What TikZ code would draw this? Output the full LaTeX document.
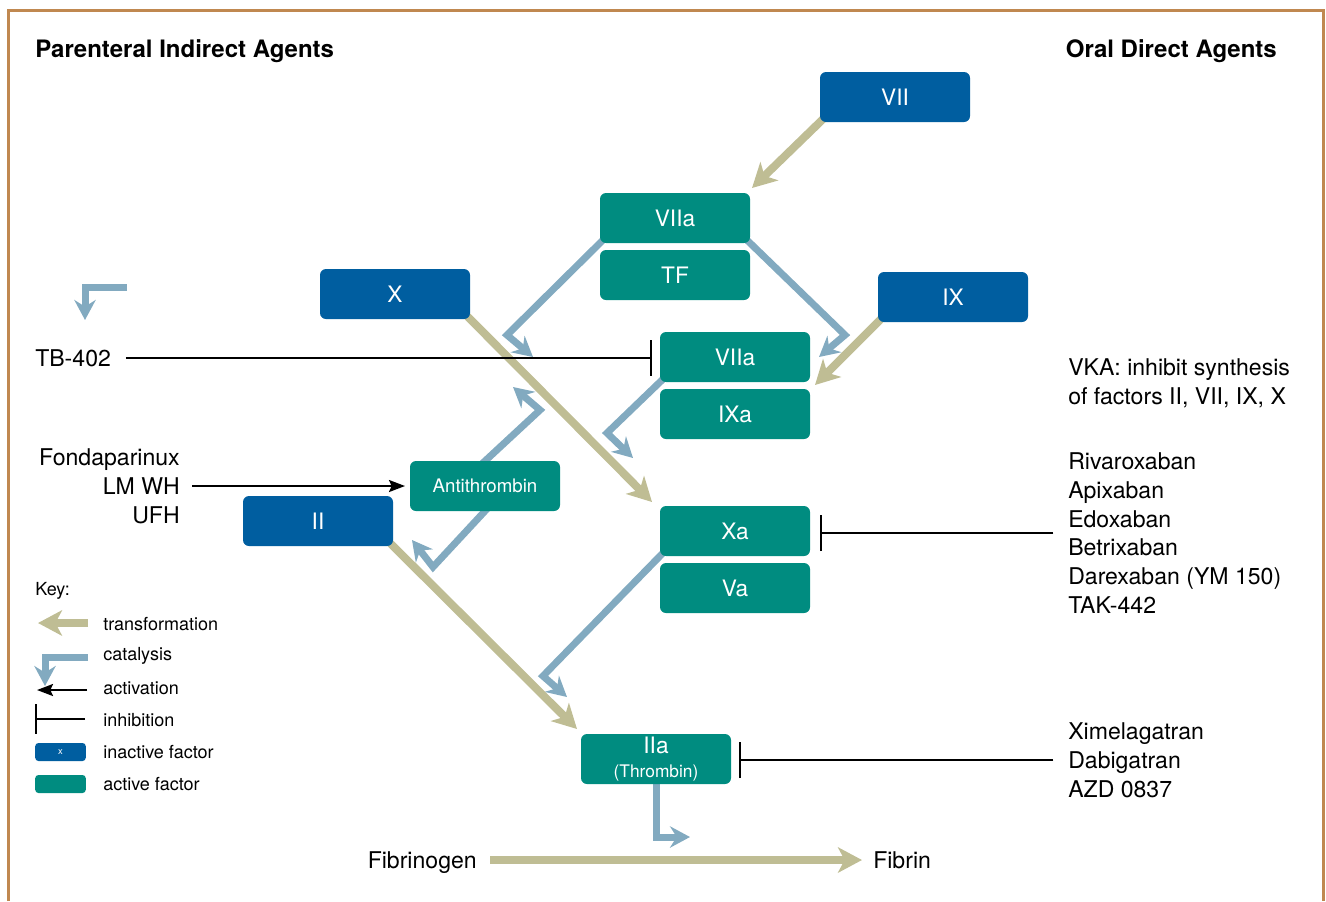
\documentclass[tikz,border=0pt]{standalone}
\usepackage{fontspec}
\setmainfont{TeX Gyre Heros}
\usetikzlibrary{arrows.meta,backgrounds}

\definecolor{inactblue}{RGB}{0,94,160}
\definecolor{actteal}{RGB}{0,140,128}
\definecolor{transcol}{RGB}{191,189,148}
\definecolor{catcol}{RGB}{130,170,192}
\definecolor{framecol}{RGB}{192,136,80}

\tikzset{
  factor/.style={rounded corners=4.5pt, minimum width=112.5pt, minimum height=37.5pt,
    inner sep=0pt, outer sep=0pt, text=white, font=\fontsize{17}{20}\selectfont},
  inactive/.style={factor, fill=inactblue},
  active/.style={factor, fill=actteal},
  transf/.style={draw=transcol, line width=6pt, shorten <=-6pt,
    -{Stealth[length=18pt,width=19pt,inset=5pt]}},
  catal/.style={draw=catcol, line width=5.25pt, line join=miter, shorten <=-6pt,
    -{Stealth[length=15pt,width=16pt,inset=5pt]}},
  inhib/.style={draw=black, line width=1.5pt, -{Bar[width=27pt]}},
  activ/.style={draw=black, line width=1.5pt, -{Stealth[length=12pt,width=9pt,inset=2pt]}},
  drug/.style={inner sep=0pt, align=left, font=\fontsize{17.3}{21.6}\selectfont},
  keytext/.style={anchor=west, inner sep=0pt, font=\fontsize{13.5}{16}\selectfont},
  keybox/.style={rounded corners=2.5pt, minimum width=38pt, minimum height=13.5pt,
    inner sep=0pt, text=white, font=\fontsize{7}{8}\selectfont},
  head/.style={inner sep=0pt, font=\bfseries\fontsize{18}{20}\selectfont},
}

\begin{document}
\begin{tikzpicture}[x=0.75pt,y=-0.75pt]

  \useasboundingbox (0,0) rectangle (1326,901);

  % headers
  \node[head, anchor=west] (hpar) at (35,51) {Parenteral Indirect Agents};
  \node[head, anchor=east] (horal) at (1277,51) {Oral Direct Agents};

  % factors
  \node[inactive] (VII) at (895,97) {VII};
  \node[active] (VIIa) at (675,218) {VIIa};
  \node[active] (TF) at (675,275) {TF};
  \node[inactive] (X) at (395,294) {X};
  \node[inactive] (IX) at (953,297) {IX};
  \node[active] (VIIb) at (735,357) {VIIa};
  \node[active] (IXa) at (735,414) {IXa};
  \node[active, font=\fontsize{14}{16}\selectfont] (AT) at (485,486) {Antithrombin};
  \node[inactive] (II) at (318,521) {II};
  \node[active] (Xa) at (735,531) {Xa};
  \node[active] (Va) at (735,588) {Va};
  \node[active, align=center, font=\fontsize{17}{18}\selectfont] (IIa) at (656,759)
    {IIa\\{\fontsize{13}{15}\selectfont (Thrombin)}};

  % drugs
  \node[drug, anchor=west] (tb) at (35,358) {TB-402};
  \node[drug, anchor=east, align=right] (fonda) at (180,486) {Fondaparinux\\LM WH\\UFH};
  \node[drug, anchor=west] (vka) at (1068,383) {VKA: inhibit synthesis\\of factors II, VII, IX, X};
  \node[drug, anchor=west] (xab) at (1068,533)
    {Rivaroxaban\\Apixaban\\Edoxaban\\Betrixaban\\Darexaban (YM 150)\\TAK-442};
  \node[drug, anchor=west] (gatran) at (1068,760) {Ximelagatran\\Dabigatran\\AZD 0837};
  \node[drug, anchor=east, text depth=0pt] (fgen) at (477,860) {Fibrinogen};
  \node[drug, anchor=west] (fibrin) at (873,860) {Fibrin};

  % catalysis elbows and tips
  \coordinate (cVIIaL) at (507,335);  \coordinate (cVIIaLt) at (533,357);
  \coordinate (cVIIaR) at (845,335);  \coordinate (cVIIaRt) at (819,357);
  \coordinate (cVIIb) at (607,433);   \coordinate (cVIIbt) at (633,458);
  \coordinate (cATu) at (540,410);    \coordinate (cATut) at (513,387);
  \coordinate (cATd) at (433,567);    \coordinate (cATdt) at (412,540);
  \coordinate (cXa) at (543,676);     \coordinate (cXat) at (567,697);
  \coordinate (cIIa) at (656,837);    \coordinate (cIIat) at (690,837);
  \coordinate (cTopS) at (127,287);   \coordinate (cTop) at (85,287);
  \coordinate (cTopt) at (85,320);

  % key
  \node[keytext] (keyhead) at (35,591) {Key:};
  \node[keytext] (ktrans) at (103,624) {transformation};
  \node[keytext] (kcat) at (103,656) {catalysis};
  \node[keytext] (kact) at (103,688) {activation};
  \node[keytext] (kinh) at (103,720) {inhibition};
  \node[keytext] (kinf) at (103,752) {inactive factor};
  \node[keytext] (kaf) at (103,784) {active factor};
  \node[keybox, fill=inactblue] (keyin) at (60.5,752) {x};
  \node[keybox, fill=actteal] (keyac) at (60.5,784) {};

  \begin{scope}[on background layer]
    % frame
    \draw[framecol, line width=2.25pt] (8,901) -- (8,10) -- (1323,10) -- (1323,901);

    % catalysis
    \draw[catal] (VIIa.south west) -- (cVIIaL) -- (cVIIaLt);
    \draw[catal] (VIIa.south east) -- (cVIIaR) -- (cVIIaRt);
    \draw[catal] (VIIb.south west) -- (cVIIb) -- (cVIIbt);
    \draw[catal] (AT.north) -- (cATu) -- (cATut);
    \draw[catal] (AT.south) -- (cATd) -- (cATdt);
    \draw[catal] (Xa.south west) -- (cXa) -- (cXat);
    \draw[catal] (IIa.south) -- (cIIa) -- (cIIat);
    \draw[catal, shorten <=0pt] (cTopS) -- (cTop) -- (cTopt);

    % transformations
    \draw[transf] (VII.south west) -- ([shift={(2,-5)}]VIIa.north east);
    \draw[transf] (X.south east) -- ([shift={(-8,-4)}]Xa.north west);
    \draw[transf] (IX.south west) -- ([shift={(5,-4)}]IXa.north east);
    \draw[transf] (II.south east) -- ([shift={(-4,-5)}]IIa.north west);
    \draw[transf, shorten <=9.75pt, shorten >=8.25pt] (fgen.east) -- (fibrin.west);

    % inhibitions and activation
    \draw[inhib, shorten <=11pt, shorten >=6pt] (tb.east) -- (tb.east -| VIIb.west);
    \draw[inhib, shorten <=11pt, shorten >=7.5pt] (xab.west) -- (xab.west -| Xa.east);
    \draw[inhib, shorten <=11pt, shorten >=6pt] (gatran.west) -- (gatran.west -| IIa.east);
    \draw[activ, shorten <=9pt, shorten >=3.75pt] (fonda.east) -- (AT.west);
  \end{scope}

  % key symbols
  \draw[transf, shorten <=0pt] (88,623) -- (38,623);
  \draw[catal, shorten <=0pt] (88,657) -- (45,657) -- (45,686);
  \draw[activ] (87,690) -- (37,690);
  \draw[inhib, -{Bar[width=22pt]}] (85,719) -- (35,719);

\end{tikzpicture}
\end{document}
